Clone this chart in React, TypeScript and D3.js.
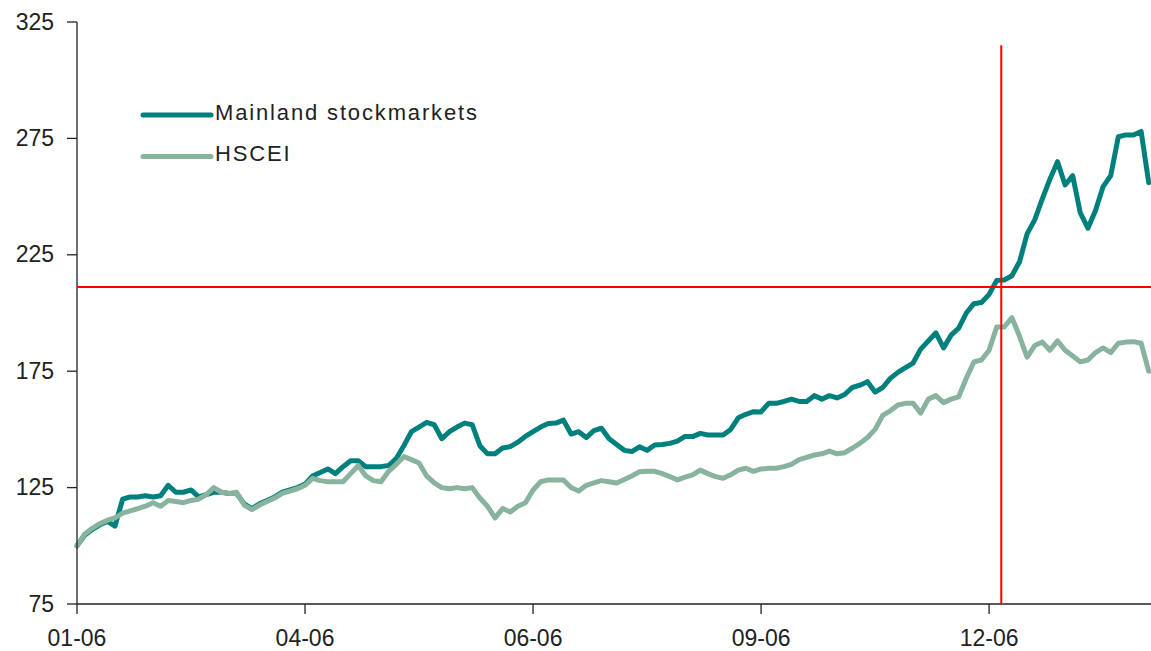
import React from "react";
import * as d3 from "d3";

// Index levels (rebased to 100), one value per sampled trading day
const mainland: number[] = [
  100, 104.5, 107, 109, 110.5, 108.5, 120, 121, 121, 121.5,
  121, 121.5, 126, 123, 123, 124, 121, 122, 123, 123,
  122.5, 122.5, 118, 116, 118, 119.5, 121, 123, 124, 125,
  126.5, 130, 131.5, 133, 131, 134, 136.5, 136.5, 134, 134,
  134, 134.5, 137.5, 143, 149, 151, 153, 152, 146, 149,
  151, 152.7, 152, 143, 139.5, 139.5, 142, 142.6, 144.5, 147,
  149, 151, 152.5, 152.7, 154, 148, 149, 146.5, 149.5, 150.5,
  146, 143.5, 141, 140.5, 142.5, 141, 143.3, 143.5, 144, 145,
  147, 146.9, 148.3, 147.6, 147.6, 147.6, 150, 155, 156.5, 157.6,
  157.5, 161.2, 161.2, 162, 163, 162, 162, 164.5, 163, 164.5,
  163.5, 165, 168, 169, 170.5, 166, 168, 171.9, 174.5, 176.5,
  178.5, 184.5, 188, 191.5, 185, 190.5, 193.5, 200, 204, 204.5,
  208, 214, 214.2, 216, 222, 234, 240, 249, 257.5, 265,
  255, 259, 243, 236.4, 244, 254.3, 259, 275.7, 276.5, 276.5,
  278, 256,
];

const hscei: number[] = [
  100, 105, 107.5, 109.5, 111, 112, 114, 115, 116, 117,
  118.5, 117, 119.5, 119, 118.5, 119.5, 120, 122, 125, 123,
  122.5, 123, 117.5, 115.5, 117.5, 119, 120.5, 122.5, 123.5, 124.5,
  126, 129, 128, 127.5, 127.5, 127.5, 131, 134.5, 130, 128,
  127.5, 132, 135, 138.3, 137, 135.6, 130, 127, 125, 124.5,
  125, 124.5, 125, 120.5, 117, 112, 116, 114.5, 117, 118.5,
  124, 127.5, 128.3, 128.3, 128.3, 125, 123.5, 126, 127, 128,
  127.5, 127, 128.5, 130, 131.8, 132, 132, 131, 129.7, 128.3,
  129.5, 130.5, 132.5, 131, 129.7, 129, 130.5, 132.5, 133.3, 132,
  133, 133.3, 133.3, 134, 135, 137, 138, 139, 139.5, 140.7,
  139.5, 140, 141.9, 144, 146.5, 150, 156, 158, 160.5, 161.2,
  161.2, 157, 163, 164.5, 161.5, 163, 164, 172, 179, 179.8,
  184, 194, 194, 198, 190, 181, 186, 187.5, 184, 188,
  184, 181.5, 179, 179.8, 183, 185, 183, 187, 187.5, 187.7,
  187, 175,
];

const seriesNames = ["Mainland stockmarkets", "HSCEI"];
const seriesColors = ["#00807C", "#88B39E"];

const yTicks = [75, 125, 175, 225, 275, 325];
const xTickIndex = [0, 30, 60, 90, 120];
const xTickLabels = ["01-06", "04-06", "06-06", "09-06", "12-06"];

// Reference lines
const refLevel = 211.2;
const refIndex = 121.6;
const refTop = 315;

const W = 1151;
const H = 651;
const left = 77;
const right = 1151;
const top = 22;
const bottom = 604;
const font = "'Liberation Sans', Arial, sans-serif";

export default function App() {
  const x = d3.scaleLinear().domain([0, 141.3]).range([left, right]);
  const y = d3.scaleLinear().domain([75, 325]).range([bottom, top]);

  const line = d3
    .line<number>()
    .x((_, i) => x(i))
    .y((d) => y(d));

  const series = [mainland, hscei];

  return (
    <svg
      width={W}
      height={H}
      style={{ position: "absolute", left: 0, top: 0, background: "#fff" }}
    >
      {/* data lines */}
      {series.map((s, k) => (
        <path
          key={k}
          d={line(s) ?? ""}
          fill="none"
          stroke={seriesColors[k]}
          strokeWidth={5}
          strokeLinejoin="round"
          strokeLinecap="round"
        />
      ))}

      {/* axes */}
      <line x1={left} x2={left} y1={top} y2={bottom} stroke="#222" strokeWidth={1.3} />
      <line x1={left} x2={right} y1={bottom} y2={bottom} stroke="#222" strokeWidth={1.3} />
      {yTicks.map((t) => (
        <g key={t}>
          <line x1={left - 10} x2={left} y1={y(t)} y2={y(t)} stroke="#222" strokeWidth={1.3} />
          <text
            x={54}
            y={y(t) + 7.5}
            textAnchor="end"
            fontFamily={font}
            fontSize={23}
            fill="#222"
          >
            {t}
          </text>
        </g>
      ))}
      {xTickIndex.map((t, i) => (
        <g key={t}>
          <line x1={x(t)} x2={x(t)} y1={bottom} y2={bottom + 10} stroke="#222" strokeWidth={1.3} />
          <text
            x={x(t)}
            y={646}
            textAnchor="middle"
            fontFamily={font}
            fontSize={23}
            fill="#222"
          >
            {xTickLabels[i]}
          </text>
        </g>
      ))}

      {/* red reference lines */}
      <line x1={left} x2={right} y1={y(refLevel)} y2={y(refLevel)} stroke="#FF0000" strokeWidth={2} />
      <line x1={x(refIndex)} x2={x(refIndex)} y1={y(refTop)} y2={bottom} stroke="#FF0000" strokeWidth={2} />

      {/* legend */}
      {seriesNames.map((name, k) => {
        const ly = k === 0 ? 115 : 156.5;
        return (
          <g key={name}>
            <line
              x1={143}
              x2={211}
              y1={ly}
              y2={ly}
              stroke={seriesColors[k]}
              strokeWidth={5}
              strokeLinecap="round"
            />
            <text
              x={215}
              y={ly + 4.5}
              fontFamily={font}
              fontSize={22}
              letterSpacing={1.85}
              fill="#222"
            >
              {name}
            </text>
          </g>
        );
      })}
    </svg>
  );
}
